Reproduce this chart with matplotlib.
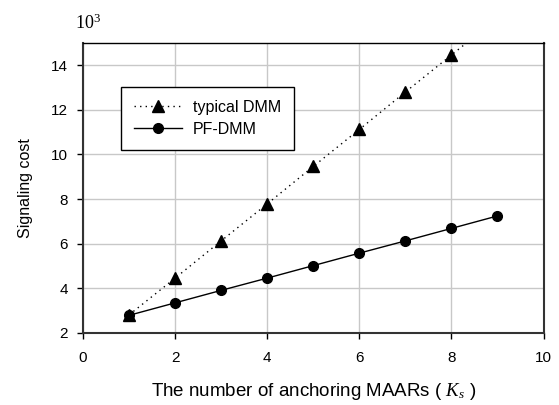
import matplotlib
matplotlib.use("Agg")
import matplotlib.pyplot as plt

plt.rcParams['font.family'] = ['Liberation Sans', 'DejaVu Sans']
plt.rcParams['mathtext.fontset'] = 'custom'
plt.rcParams['mathtext.it'] = 'Liberation Serif:italic'
plt.rcParams['mathtext.rm'] = 'Liberation Serif'

# data in units of 10^3
k_typical = [1, 2, 3, 4, 5, 6, 7, 8, 9]
typical_dmm = [2.8, 4.45, 6.12, 7.78, 9.46, 11.12, 12.8, 14.46, 16.12]
k_pf = [1, 2, 3, 4, 5, 6, 7, 8, 9]
pf_dmm = [2.78, 3.34, 3.9, 4.45, 5.01, 5.57, 6.12, 6.68, 7.24]

xticks = [0, 2, 4, 6, 8, 10]
yticks = [2, 4, 6, 8, 10, 12, 14]

fig = plt.figure(figsize=[5.59, 4.05], dpi=100)
ax = fig.add_axes([0.1485, 0.1785, 0.8238, 0.7153])

ax.plot(k_typical, typical_dmm, color='black', linestyle=(0, (1, 3)), linewidth=1,
        marker='^', markersize=8, label='typical DMM', zorder=3)
ax.plot(k_pf, pf_dmm, color='black', linestyle='-', linewidth=1,
        marker='o', markersize=7, label='PF-DMM', zorder=4)

ax.set_xlim(0, 10)
ax.set_ylim(2, 15)
ax.set_xticks(xticks)
ax.set_yticks(yticks)
ax.grid(True, color='#c8c8c8', linewidth=1)
ax.set_axisbelow(True)
ax.tick_params(direction='out', length=4, width=1, labelsize=11, colors='black')
ax.tick_params(axis='x', pad=9)
ax.tick_params(axis='y', pad=7)

for side in ['left', 'bottom']:
    ax.spines[side].set_linewidth(1.5)
    ax.spines[side].set_color('#333333')
ax.spines['top'].set_linewidth(1)
ax.spines['right'].set_linewidth(1.5)
ax.spines['right'].set_color('#333333')

ax.set_ylabel('Signaling cost', fontsize=11.5, labelpad=13)
ax.set_xlabel('The number of anchoring MAARs ( $K_s$ )', fontsize=13.5, labelpad=12)

fig.text(0.134, 0.928, r'10$^3$', fontsize=13, family='Liberation Serif',
         ha='left', va='baseline')

leg = ax.legend(loc='upper left', bbox_to_anchor=(0.0825, 0.848), fontsize=11.5,
                frameon=True, fancybox=False, framealpha=1, edgecolor='black',
                handlelength=3, borderpad=0.8, labelspacing=0.45, handletextpad=0.7,
                borderaxespad=0)
leg.get_frame().set_linewidth(1)

fig.savefig('out.png', dpi=100)
